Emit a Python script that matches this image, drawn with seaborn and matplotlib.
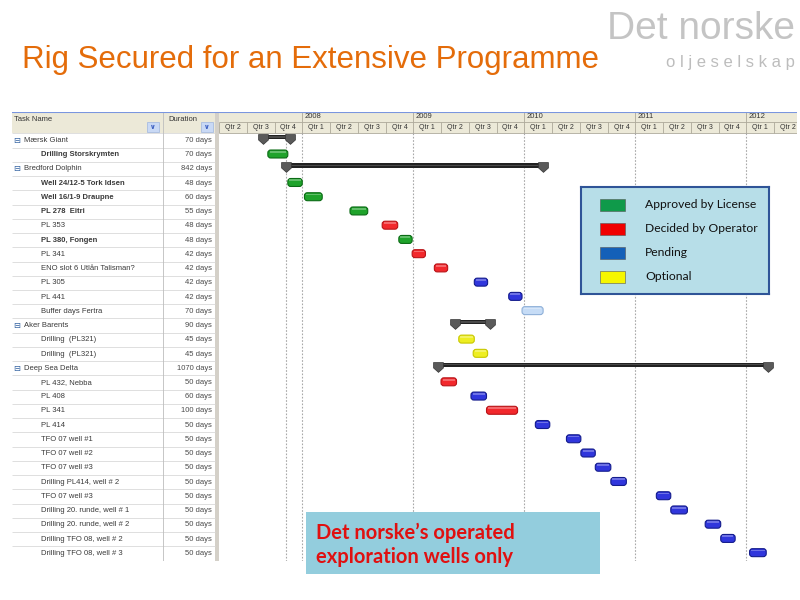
import matplotlib
matplotlib.use("Agg")
import numpy as np
import pandas as pd
import seaborn as sns
import matplotlib.pyplot as plt
from matplotlib.patches import FancyBboxPatch, Rectangle

tasks = ["Mærsk Giant", "Drilling Storskrymten", "Bredford Dolphin", "Well 24/12-5 Tork Idsen",
         "Well 16/1-9 Draupne", "PL 278  Eitri", "PL 353", "PL 380, Fongen", "PL 341",
         "ENO slot 6 Utlån Talisman?", "PL 305", "PL 441", "Buffer days Fertra", "Aker Barents",
         "Drilling  (PL321)", "Drilling  (PL321)", "Deep Sea Delta", "PL 432, Nebba", "PL 408",
         "PL 341", "PL 414", "TFO 07 well #1", "TFO 07 well #2", "TFO 07 well #3",
         "Drilling PL414, well # 2", "TFO 07 well #3", "Drilling 20. runde, well # 1",
         "Drilling 20. runde, well # 2", "Drilling TFO 08, well # 2", "Drilling TFO 08, well # 3"]
durations = [70, 70, 842, 48, 60, 55, 48, 48, 42, 42, 42, 42, 70, 90, 45, 45, 1070,
             50, 60, 100, 50, 50, 50, 50, 50, 50, 50, 50, 50, 50]
starts = [2007.65, 2007.69, 2007.85, 2007.87, 2008.02, 2008.43, 2008.72, 2008.87, 2008.99, 2009.19,
          2009.55, 2009.86, 2009.98, 2009.38, 2009.41, 2009.54, 2009.22, 2009.25, 2009.52, 2009.66,
          2010.10, 2010.38, 2010.51, 2010.64, 2010.78, 2011.19, 2011.32, 2011.63, 2011.77, 2012.03]
ends = [2007.89, 2007.87, 2010.17, 2008.00, 2008.18, 2008.59, 2008.86, 2008.99, 2009.11, 2009.31,
        2009.67, 2009.98, 2010.17, 2009.69, 2009.55, 2009.67, 2012.20, 2009.39, 2009.66, 2009.94,
        2010.23, 2010.51, 2010.64, 2010.78, 2010.92, 2011.32, 2011.47, 2011.77, 2011.90, 2012.18]
status = ["summary", "approved", "summary", "approved", "approved", "approved", "decided",
          "approved", "decided", "decided", "pending", "pending", "buffer", "summary",
          "optional", "optional", "summary", "decided", "pending", "decided", "pending",
          "pending", "pending", "pending", "pending", "pending", "pending", "pending",
          "pending", "pending"]
bold_rows = ["Drilling Storskrymten", "Well 24/12-5 Tork Idsen", "Well 16/1-9 Draupne",
             "PL 278  Eitri", "PL 380, Fongen"]
years = [2008, 2009, 2010, 2011, 2012]
legend_labels = ["Approved by License", "Decided by Operator", "Pending", "Optional"]
legend_keys = ["approved", "decided", "pending", "optional"]

df = pd.DataFrame({"task": tasks, "duration": durations, "start": starts, "end": ends, "status": status})
df["row"] = np.arange(len(df))

fill = {"approved": "#1FA32B", "decided": "#F2282C", "pending": "#3036DC",
        "optional": "#EEEE22", "buffer": "#C6DCF6"}
edge = {"approved": "#0B6B15", "decided": "#B81418", "pending": "#141C8C",
        "optional": "#C8C800", "buffer": "#8FB0D8"}
swatch = {"approved": "#0F9A4A", "decided": "#F00000", "pending": "#1460B8", "optional": "#F6F600"}

sns.set_theme(style="white")
plt.rcParams["font.family"] = ["Liberation Sans", "DejaVu Sans"]

fig = plt.figure(figsize=(8, 6), dpi=100)
x0, x1 = 2007.25, 2007.25 + 578 / 111
ytop, ybot = -2.0, 29.5

# ---- Partie Gantt ---- #
ax = fig.add_axes([219 / 800, 1 - 560.5 / 600, 578 / 800, 448.5 / 600])
ax.set_xlim(x0, x1)
ax.set_ylim(ybot, ytop)
ax.set_axis_off()

ax.add_patch(Rectangle((x0, ytop), x1 - x0, 1.5, color="#ECE9D8", lw=0, zorder=1))
quarters = np.arange(x0, x1, 0.25)
ax.vlines(quarters, -1.3, -0.5, color="#ACA899", lw=0.6, zorder=2)
ax.vlines(years, ytop, -1.3, color="#ACA899", lw=0.6, zorder=2)
ax.hlines([-1.3, -0.5], x0, x1, color="#ACA899", lw=0.6, zorder=2)
ax.hlines(ytop, x0, x1, color="#7A96DF", lw=1.5, zorder=3)
for yr in years:
    ax.text(yr + 0.025, -1.65, str(yr), fontsize=5.5, va="center", color="#333333", zorder=3)
for q in quarters:
    n = int(round((q % 1) * 4)) + 1
    ax.text(q + 0.125, -0.9, f"Qtr {n}", fontsize=5, ha="center", va="center",
            color="#333333", zorder=3, clip_on=True)

ax.vlines([2007.856] + years, -0.5, ybot, color="#A8A8A8", lw=0.8,
          linestyles=(0, (1.5, 1.5)), zorder=2)

ratio = 111 / 14.24
for _, r in df.iterrows():
    i = r["row"]
    if r["status"] == "summary":
        ax.barh(i - 0.25, r["end"] - r["start"], left=r["start"], height=0.3,
                color="#222222", lw=0, zorder=4)
        ax.barh(i - 0.25, r["end"] - r["start"], left=r["start"], height=0.1,
                color="#4A4A4A", lw=0, zorder=5)
    else:
        ax.add_patch(FancyBboxPatch((r["start"], i - 0.33), r["end"] - r["start"], 0.56,
                                    boxstyle="round,pad=0,rounding_size=0.026",
                                    mutation_aspect=ratio, fc=fill[r["status"]],
                                    ec=edge[r["status"]], lw=0.8, zorder=4))
        ax.barh(i - 0.2, r["end"] - r["start"] - 0.03, left=r["start"] + 0.015, height=0.12,
                color="white", alpha=0.3, lw=0, zorder=5)

summ = df[df["status"] == "summary"]
ends_df = pd.DataFrame({"x": list(summ["start"]) + list(summ["end"]),
                        "y": list(summ["row"] - 0.12) * 2})
pent = [(-1, 1), (1, 1), (1, -0.1), (0, -1), (-1, -0.1), (-1, 1)]
sns.scatterplot(data=ends_df, x="x", y="y", marker=pent, s=50, color="#5A5A5A",
                edgecolor="#333333", linewidth=0.5, ax=ax, zorder=6, legend=False)
ax.set_xlim(x0, x1)
ax.set_ylim(ybot, ytop)
ax.set_axis_off()

# ---- Tableau des tâches ---- #
tax = fig.add_axes([12 / 800, 1 - 560.5 / 600, 207 / 800, 448.5 / 600])
tax.set_xlim(12, 219)
tax.set_ylim(ybot, ytop)
tax.set_axis_off()
tax.add_patch(Rectangle((12, ytop), 203, 1.5, color="#ECE9D8", lw=0, zorder=1))
tax.add_patch(Rectangle((215, ytop), 4, ybot - ytop, color="#D4D0C8", lw=0, zorder=1))
tax.hlines(np.arange(-0.5, len(df)), 12, 215, color="#D9D9D9", lw=0.6, zorder=2)
tax.vlines(163, ytop, ybot, color="#BDBDBD", lw=0.6, zorder=2)
tax.hlines(ytop, 12, 219, color="#7A96DF", lw=1.5, zorder=3)
tax.text(14, -1.45, "Task Name", fontsize=5.5, va="center", color="#333333", zorder=3)
tax.text(168, -1.45, "Duration", fontsize=5.5, va="center", color="#333333", zorder=3)
for bx in [147, 201]:
    tax.add_patch(Rectangle((bx, -1.3), 12, 0.7, fc="#C9D9F5", ec="#9FB5E0", lw=0.5, zorder=4))
    tax.text(bx + 6, -0.95, "∨", fontsize=5, ha="center", va="center", color="#3C5FC0",
             fontweight="bold", family=["DejaVu Sans"], zorder=5)
for _, r in df.iterrows():
    i = r["row"]
    if r["status"] == "summary":
        tax.text(13, i, "⊟", fontsize=6, va="center", color="#3060A0",
                 family=["DejaVu Sans"], zorder=3)
        tax.text(24, i, r["task"], fontsize=5.5, va="center", color="#3A3A3A", zorder=3)
    else:
        weight = "bold" if r["task"] in bold_rows else "normal"
        tax.text(41, i, r["task"], fontsize=5.5, va="center", color="#3A3A3A",
                 fontweight=weight, zorder=3)
    tax.text(212, i, f"{r['duration']} days", fontsize=5.5, ha="right", va="center",
             color="#4A4A4A", zorder=3)

# ---- Légende ---- #
lax = fig.add_axes([581 / 800, 1 - 294 / 600, 188 / 800, 107 / 600])
lax.set_xlim(581, 769)
lax.set_ylim(294, 187)
lax.set_facecolor("#B7DEE8")
lax.set_xticks([])
lax.set_yticks([])
for s in lax.spines.values():
    s.set_color("#2F5497")
    s.set_linewidth(1.5)
for k, (lab, key) in enumerate(zip(legend_labels, legend_keys)):
    yc = 205 + 24 * k
    lax.add_patch(Rectangle((600, yc - 6), 25, 12, fc=swatch[key], ec="#555555", lw=0.4))
    lax.text(645, yc, lab, fontsize=8.7, va="center", color="#111111", family=["Lato", "DejaVu Sans"])

# ---- Encadré ---- #
nax = fig.add_axes([306 / 800, 1 - 574 / 600, 294 / 800, 62 / 600])
nax.set_facecolor("#93CDDD")
nax.set_xticks([])
nax.set_yticks([])
for s in nax.spines.values():
    s.set_visible(False)
nax.text(10 / 294, 0.47, "Det norske’s operated\nexploration wells only", transform=nax.transAxes,
         fontsize=14.5, fontweight="bold", color="#E01010", va="center", linespacing=1.25,
         family=["Lato", "DejaVu Sans"])

# ---- Titre et logo ---- #
fig.text(22 / 800, 1 - 60 / 600, "Rig Secured for an Extensive Programme", color="#E46C0A",
         fontsize=22.5, va="center")
fig.text(795 / 800, 1 - 29 / 600, "Det norske", color="#C4C4C4", fontsize=28, ha="right",
         va="center")
fig.text(795 / 800, 1 - 62 / 600, "o l j e s e l s k a p", color="#BDBDBD", fontsize=12,
         ha="right", va="center")

fig.savefig("out.png", dpi=100)
